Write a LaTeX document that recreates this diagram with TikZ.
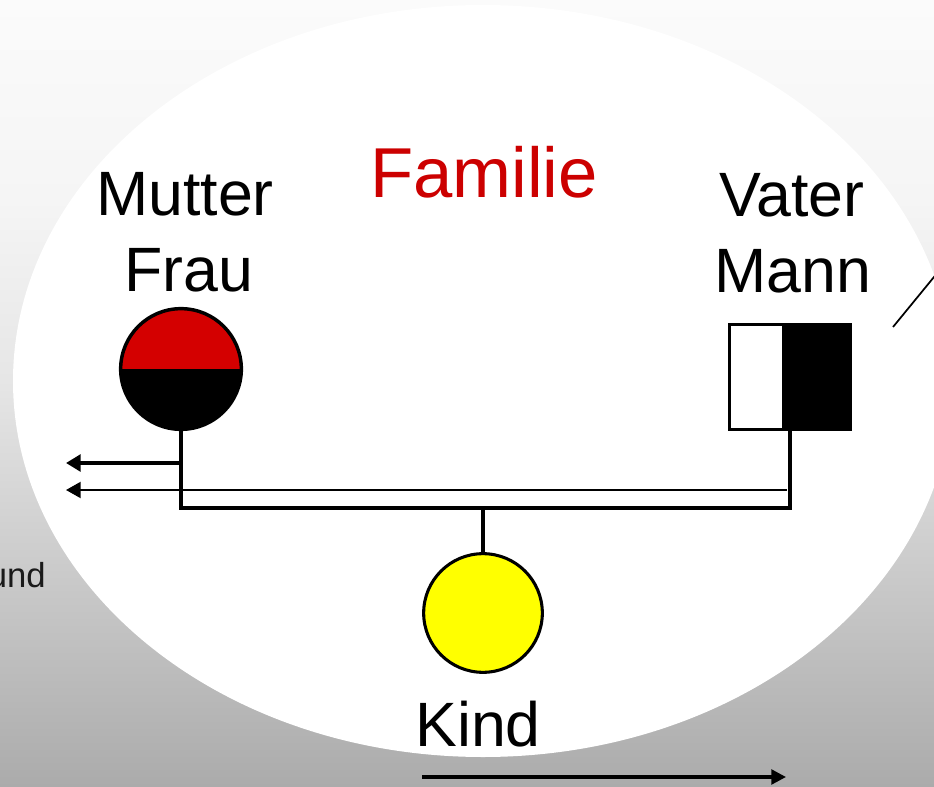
\documentclass[tikz,border=0pt]{standalone}
\usepackage{fontspec}
\setmainfont{Liberation Sans}
\usetikzlibrary{arrows.meta,calc}
\definecolor{famred}{HTML}{CC0000}
\definecolor{momred}{HTML}{D40000}
\definecolor{kindyellow}{HTML}{FFFF00}
\definecolor{bgA}{RGB}{251,251,251}
\definecolor{bgB}{RGB}{245,245,245}
\definecolor{bgC}{RGB}{230,230,230}
\definecolor{bgD}{RGB}{204,204,204}
\definecolor{bgE}{RGB}{171,171,171}
\definecolor{undtext}{HTML}{1A1A1A}
\pgfdeclareverticalshading{bgshade}{100bp}{color(0bp)=(bgE); color(25bp)=(bgE); color(39.42bp)=(bgD); color(50.86bp)=(bgC); color(62.29bp)=(bgB); color(75bp)=(bgA); color(100bp)=(bgA)}
\tikzset{
  lbl/.style={anchor=base, inner sep=0pt, font=\fontsize{47}{56}\selectfont},
  titlelbl/.style={anchor=base, inner sep=0pt, text=famred, font=\fontsize{53}{64}\selectfont},
  smalllbl/.style={anchor=base east, inner sep=0pt, text=undtext, font=\fontsize{26}{31}\selectfont},
  conn/.style={line width=3pt, line join=miter},
  thickarrow/.style={line width=3pt, -{Triangle[length=11pt,width=12.5pt]}},
  thinarrow/.style={line width=1.5pt, -{Triangle[length=11pt,width=12pt]}},
  bottomarrow/.style={line width=2.5pt, -{Triangle[length=11pt,width=11pt]}},
  momnode/.style={circle, draw, line width=2.6pt, minimum size=90.5pt, inner sep=0pt,
    path picture={
      \fill[momred] (path picture bounding box.north west) rectangle (path picture bounding box.east);
      \fill[black] (path picture bounding box.west) rectangle (path picture bounding box.south east);
    }},
  dadnode/.style={rectangle, draw, line width=2.4pt, minimum width=91pt, minimum height=79pt, inner sep=0pt, fill=white,
    path picture={
      \fill[black] ([xshift=-6pt]path picture bounding box.north) rectangle (path picture bounding box.south east);
    }},
  kindnode/.style={circle, draw, line width=2.3pt, fill=kindyellow, minimum size=89pt, inner sep=0pt},
  slant/.style={line width=1.3pt}
}
\begin{document}
\begin{tikzpicture}[x=0.75pt, y=-0.75pt]
\useasboundingbox (0,0) rectangle (934,787);
\clip (0,0) rectangle (934,787);
\shade[shading=bgshade] (0,0) rectangle (934,787);
\fill[white] (483,381) ellipse [x radius=470, y radius=376];

% labels
\node[titlelbl] (familie) at (484,198) {Familie};
\node[lbl] (mutter) at (185,216) {Mutter};
\node[lbl] (frau) at (189,292) {Frau};
\node[lbl] (vater) at (792,217) {Vater};
\node[lbl] (mann) at (793,293) {Mann};
\node[lbl] (kindlbl) at (478,746) {Kind};
\node[smalllbl] (und) at (46,587) {und};

% persons
\node[momnode] (mother) at (181,369) {};
\node[dadnode] (father) at (790,377) {};
\node[kindnode] (kind) at (483,613) {};

% connectors
\coordinate (bar) at (483,508);
\draw[conn] (mother.south) -- (mother.south |- bar) -- (father.south |- bar) -- (father.south);
\draw[conn] (bar) -- (kind.north);

\coordinate (m1) at (181,463);
\coordinate (a1) at (66,463);
\draw[thickarrow] (m1) -- (a1);

\coordinate (f2) at (787,490);
\coordinate (a2) at (66,490);
\draw[thinarrow] (f2) -- (a2);

\coordinate (b1) at (422,777);
\coordinate (b2) at (786,777);
\draw[bottomarrow] (b1) -- (b2);

\coordinate (s1) at (893,327);
\coordinate (s2) at (952,255);
\draw[slant] (s1) -- (s2);
\end{tikzpicture}
\end{document}
